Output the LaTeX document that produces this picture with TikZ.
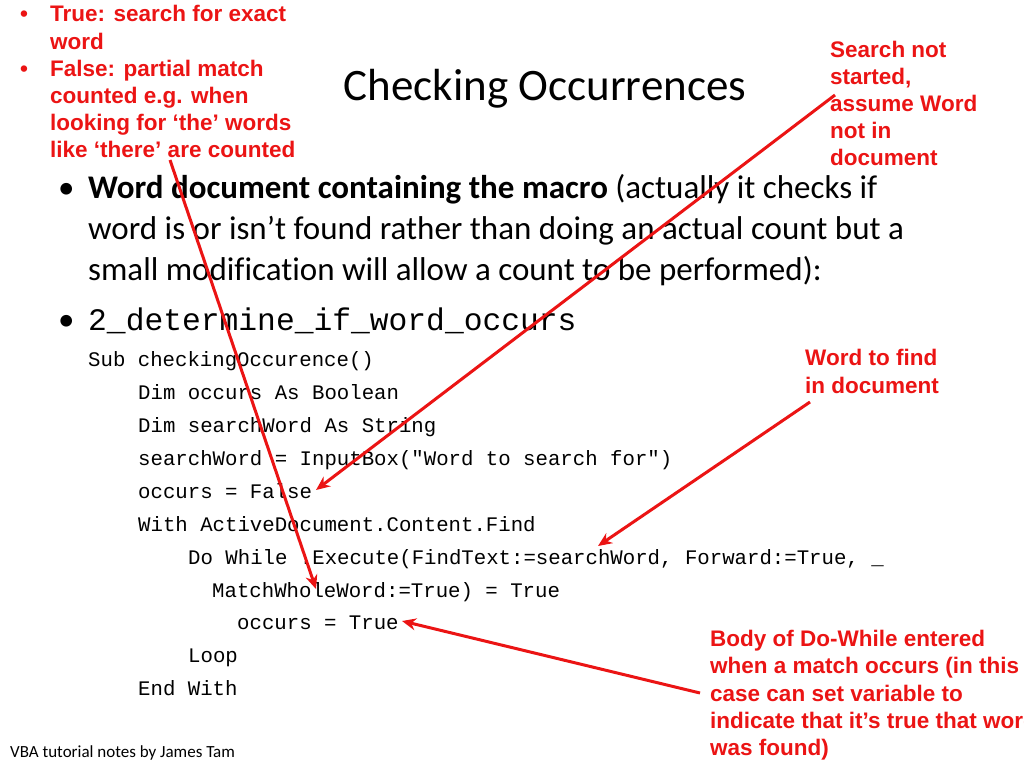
\documentclass[tikz,border=0pt]{standalone}
\usepackage{fontspec}
\setmainfont{Carlito}[Ligatures=NoCommon]
\newfontfamily\rfont{Liberation Sans}
\newfontfamily\cfont{Liberation Mono}
\usetikzlibrary{arrows.meta}
\definecolor{rd}{RGB}{235,20,20}
\tikzset{
 red/.style={anchor=base west,inner sep=0,font=\rfont\bfseries\fontsize{22.5}{27}\selectfont,text=rd,align=left},
 code/.style={anchor=base west,inner sep=0,font=\cfont\fontsize{20.7}{24}\selectfont},
 body/.style={anchor=base west,inner sep=0,font=\fontsize{33}{41}\selectfont},
 arr/.style={draw=rd,line width=3pt,-{Stealth[length=14pt,width=12pt]}}
}
\begin{document}
\begin{tikzpicture}[x=1pt,y=-1pt]
\useasboundingbox (0,0) rectangle (1024,768);
\clip (0,0) rectangle (1024,768);
% left annotation
\node[red] (b1) at (20,22) {\textbullet};
\node[red] (b2) at (20,76) {\textbullet};
\node[red] (t1) at (50,22) {True: search for exact};
\node[red] (t2) at (50,49) {word};
\node[red] (t3) at (50,76) {False: partial match};
\node[red] (t4) at (50,103) {counted e.g. when};
\node[red] (t5) at (50,130) {looking for ‘the’ words};
\node[red] (t6) at (50,157) {like ‘there’ are counted};
% right top annotation
\node[red] (s1) at (830,57) {Search not};
\node[red] (s2) at (830,84) {started,};
\node[red] (s3) at (830,111) {assume Word};
\node[red] (s4) at (830,138) {not in};
\node[red] (s5) at (830,165) {document};
% title
\node[anchor=base,inner sep=0,font=\fontsize{45}{50}\selectfont] (title) at (545,100) {Checking Occurrences};
% bullets
\node[body] (bb1) at (58,198) {•};
\node[body] (l1) at (88,198) {\textbf{Word document containing the macro} (actually it checks if};
\node[body] (l2) at (88,239) {word is or isn’t found rather than doing an actual count but a};
\node[body] (l3) at (88,280) {small modification will allow a count to be performed):};
\node[body] (bb2) at (58,330) {•};
\node[anchor=base west,inner sep=0,font=\cfont\fontsize{31.3}{34}\selectfont] (l4) at (88,330) {2\_determine\_if\_word\_occurs};
% code
\node[code] (c1) at (88,366) {Sub checkingOccurence()};
\node[code] (c2) at (138,399) {Dim occurs As Boolean};
\node[code] (c3) at (138,432) {Dim searchWord As String};
\node[code] (c4) at (138,465) {searchWord = InputBox("Word to search for")};
\node[code] (c5) at (138,498) {occurs = False};
\node[code] (c6) at (138,531) {With ActiveDocument.Content.Find};
\node[code] (c7) at (188,564) {Do While .Execute(FindText:=searchWord, Forward:=True, \_};
\node[code] (c8) at (212,597) {MatchWholeWord:=True) = True};
\node[code] (c9) at (237,629) {occurs = True};
\node[code] (c10) at (188,662) {Loop};
\node[code] (c11) at (138,695) {End With};
% right annotations
\node[red] (w1) at (805,365) {Word to find};
\node[red] (w2) at (805,393) {in document};
\node[red] (d1) at (710,646) {Body of Do-While entered};
\node[red] (d2) at (710,673) {when a match occurs (in this};
\node[red] (d3) at (710,701) {case can set variable to};
\node[red] (d4) at (710,728) {indicate that it’s true that word};
\node[red] (d5) at (710,755) {was found)};
\node[anchor=base west,inner sep=0,font=\fontsize{17}{20}\selectfont] (foot) at (10,757) {VBA tutorial notes by James Tam};
% arrows
\coordinate (a1s) at (170,160); \coordinate (a1e) at (316,589);
\coordinate (a2s) at (835,95);  \coordinate (a2e) at (316,490);
\coordinate (a3s) at (810,402); \coordinate (a3e) at (598,546);
\coordinate (a4s) at (700,693); \coordinate (a4e) at (402,621);
\draw[arr] (a1s) -- (a1e);
\draw[arr] (a2s) -- (a2e);
\draw[arr] (a3s) -- (a3e);
\draw[arr] (a4s) -- (a4e);
\end{tikzpicture}
\end{document}
